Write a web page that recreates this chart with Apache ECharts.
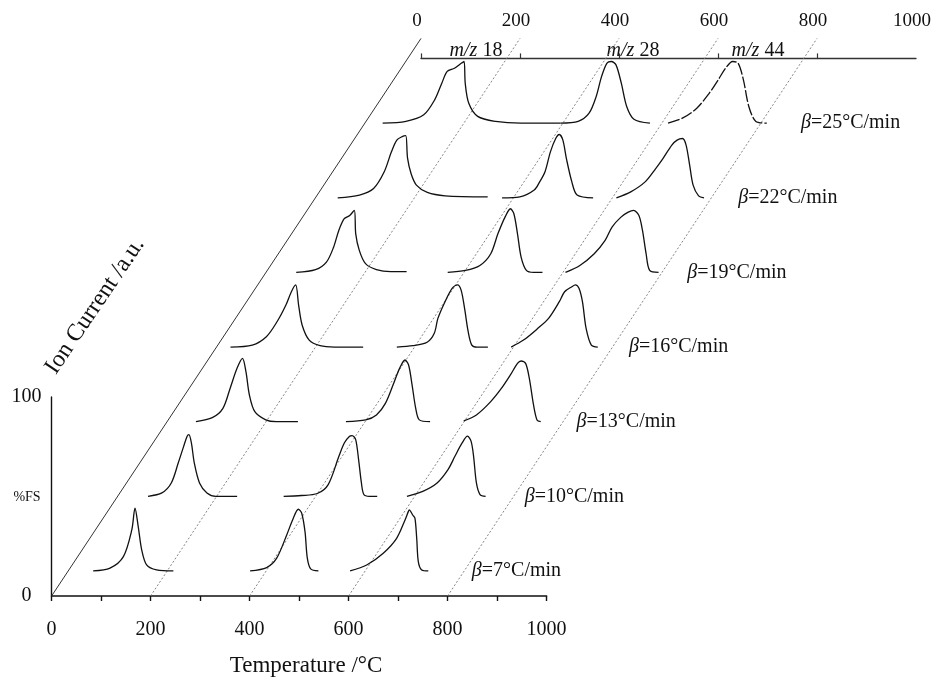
<!DOCTYPE html>
<html>
<head>
<meta charset="utf-8">
<script src="https://cdn.jsdelivr.net/npm/echarts@6/dist/echarts.min.js"></script>
<style>
html, body { margin: 0; padding: 0; background: #fff; }
#chart { width: 933px; height: 677px; }
</style>
</head>
<body>
<div id="chart"></div>
<script>
// heating rates, one slice each (front to back)
const BETAS = [7, 10, 13, 16, 19, 22, 25];

// traces per slice as [temperature on front axis, %FS above slice baseline]
const MZ18 = [
    [[84,0],[118,1.4],[145,7.2],[162,20.6],[168.5,31.5],[175,22.3],[182,10.6],[192,3],[212,0.5],[246,0]],
    [[95,0],[123,1.7],[142,6.7],[156,16.7],[167,25.1],[174,30.2],[177.6,31],[182.6,26.8],[188.5,16.7],[199,6.7],[214,1.7],[232,0],[275,0]],
    [[92,0],[125,2],[146.5,6.7],[161,16.7],[175,26.8],[186,31.8],[193,25.1],[200,13.4],[211,5],[233,0.9],[254,0],[298,0]],
    [[62,0],[106,1],[134.5,5.2],[156,12.7],[174,21.1],[185,27.8],[193.7,31.2],[199.6,21.1],[206.7,11.1],[221,3.5],[243,0.7],[272,0],[330,0]],
    [[95,0],[134,1.4],[156,5.2],[170.5,12.7],[181,21.1],[192,27],[203,28.6],[212.3,31.2],[215.2,19.4],[222.4,11.1],[235,4.4],[257,1.4],[286,0.4],[318,0.4]],
    [[79,0],[123,1.4],[151.5,4.7],[173,13.1],[187.5,23.1],[198.4,29],[209,30.7],[216.4,31.2],[220,20.1],[227.3,12.1],[238,6.4],[260,2.7],[296,1],[382,0.5]],
    [[70,0],[117,0.9],[153,4.2],[175,11.7],[189.5,20.1],[200.4,26],[215,27.6],[229.5,30.2],[234.5,31],[236.8,20.1],[243.8,10.1],[262,3.4],[298,0.9],[349,0],[429,0]]
];
const MZ28 = [
    [[401,0],[434.5,1.7],[454.7,6.4],[475,18.1],[488.3,26.5],[498.4,31],[505.3,29],[512,19.6],[516.6,6.4],[523.4,1],[539,0]],
    [[369,0],[405,0.4],[437,1.4],[459,5.9],[480.6,20.1],[491.5,26.8],[502.2,30.2],[507.3,30.5],[514.5,28.5],[520.4,18.4],[526.1,6.7],[531,0.9],[542,0],[558,0]],
    [[395,0],[435,0.9],[456.6,3.4],[474.7,9.2],[492.7,20.1],[503.4,26.8],[514.3,31],[521.6,28.5],[528.7,18.4],[536,6.7],[543.2,0.9],[565,0]],
    [[398,0],[430.5,0.7],[459.2,2.4],[473.7,6.9],[481,14.4],[495.4,22.8],[509.7,29.5],[520.6,31.2],[527.9,28.6],[534.9,19.4],[542.2,7.7],[549.5,1],[560,0],[582,0]],
    [[401,0],[437,1],[466,3.5],[488,9.4],[502.4,19.4],[516.8,27.8],[527.7,32],[534.7,29.5],[542,19.4],[549.3,7.7],[560,1],[574.5,0],[592.5,0]],
    [[411,0],[447,0.5],[476,3.9],[487,8],[497.8,13.1],[508.7,23.1],[519.4,29.8],[526.7,31.8],[533.9,29],[541,19.7],[552,8],[562.6,1.4],[595,0]],
    [[429,0],[465,0.9],[487,5],[501.4,13.4],[512.3,23.5],[523.2,30.2],[531.9,31],[541.4,29.3],[552.1,20.1],[563,8.4],[577.6,2],[610,0]]
];
const MZ44 = [
    [[603,0],[636.6,3],[670,8.9],[697,16.4],[714,25.6],[720.6,29.8],[722.6,30.7],[729.5,28.1],[734,26.5],[737.6,16.4],[740.8,4.7],[747.7,0.5],[761,0]],
    [[618,0],[650,2.5],[679,6.7],[701,13.4],[715,20.1],[729.5,26.8],[740.4,30.2],[747.7,27.6],[752.7,20.1],[758.4,6.7],[765.7,0.9],[777,0]],
    [[633,0.4],[658.6,3.4],[687.5,10.1],[709,16.7],[727.3,23.5],[741.6,29.3],[749,30.5],[758,29.3],[765.5,21.8],[774,8.4],[781,0.9],[788.5,0]],
    [[629,0],[654,3.5],[683,9.4],[704.6,14.4],[726.3,22.8],[737,27.8],[751.5,30.3],[758.8,31.2],[766,29.5],[773,22.8],[780.4,9.4],[791,1],[804,0]],
    [[639,0],[668,3.5],[697,9.4],[719,16.1],[733,22.8],[751,27.8],[765.7,30.3],[776.6,31.2],[787.3,28.6],[794.5,21.1],[801.8,9.4],[809,1],[827,0]],
    [[642,0],[671,3],[700,8],[721.4,14.7],[736,19.7],[754,26.5],[764.6,29],[775.6,29.8],[782.8,26.5],[790,16.4],[797,6.4],[808,1],[819,0]],
    [[646.5,0],[675.6,2.5],[704.6,7.5],[730,15.1],[748,21.8],[762.6,27.6],[777,31],[788,30.2],[798.8,21.8],[809.7,8.4],[824,0.9],[846,0]]
];

// where each beta label starts, in front-axis temperature
const BETA_LABEL_T = [849, 856, 861, 867, 885, 888, 915];

// axis ticks
const TEMP_LABELS = [0, 200, 400, 600, 800, 1000];
const TEMP_TICKS = [0, 100, 200, 300, 400, 500, 600, 700, 800, 900, 1000];
const TOP_TICKS = [0, 200, 400, 600, 800];
const GUIDE_T = [0, 200, 400, 600, 800];

// oblique projection: shift of each slice, baseline of first slice, shift of the rear axis
const SLICE_DT = 99.8, SLICE_DH = 37.5, BASE_H = 12.6;
const TOP_DT = 746.3, TOP_H = 280.2;

const FONT = '"Liberation Serif", "Times New Roman", serif';

function project(points, k) {
    return points.map(function (p) {
        return [p[0] + k * SLICE_DT, BASE_H + p[1] + k * SLICE_DH];
    });
}

var myChart = echarts.init(document.getElementById('chart'));

var series = [];

// guide lines from front axis to rear axis
GUIDE_T.forEach(function (t) {
    series.push({
        type: 'line',
        xAxisIndex: 2, yAxisIndex: 2,
        data: [[t, 0], [t + TOP_DT, TOP_H]],
        symbol: 'none',
        silent: true,
        clip: false,
        lineStyle: {
            color: t === 0 ? '#333' : '#777',
            width: t === 0 ? 1 : 0.9,
            type: t === 0 ? 'solid' : [2, 2]
        }
    });
});

[MZ18, MZ28, MZ44].forEach(function (trace, m) {
    trace.forEach(function (pts, k) {
        // the rear m/z 44 trace is broken up in the scan
        var broken = (m === 2 && k === 6);
        series.push({
            type: 'line',
            xAxisIndex: 2, yAxisIndex: 2,
            data: project(pts, k),
            symbol: 'none',
            smooth: 0.3,
            silent: true,
            clip: false,
            lineStyle: { color: '#111', width: 1.3, type: broken ? [12, 2] : 'solid' }
        });
    });
});

series.push({
    type: 'scatter',
    xAxisIndex: 2, yAxisIndex: 2,
    symbolSize: 0,
    itemStyle: { color: '#000', opacity: 1 },
    silent: true,
    data: BETAS.map(function (b, k) {
        return [BETA_LABEL_T[k] + k * SLICE_DT, BASE_H + k * SLICE_DH];
    }),
    label: {
        show: true,
        position: 'right',
        distance: 0,
        color: '#111',
        opacity: 1,
        fontFamily: FONT,
        fontSize: 20,
        formatter: function (p) {
            return '{i|β}=' + BETAS[p.dataIndex] + '°C/min';
        },
        rich: {
            i: { fontStyle: 'italic', fontFamily: FONT, fontSize: 20, color: '#111' }
        }
    }
});

function plainNum(v) { return String(v); }

var option = {
    backgroundColor: '#fff',
    animation: false,
    textStyle: { fontFamily: FONT, color: '#111' },
    grid: [
        { left: 51.6, right: 386.4, top: 397, bottom: 81, outerBoundsMode: 'none', containLabel: false },
        { left: 421, width: 495, top: 38.4, height: 20, outerBoundsMode: 'none', containLabel: false },
        { left: 51.6, right: 0, top: 0, bottom: 81, outerBoundsMode: 'none', containLabel: false }
    ],
    xAxis: [{
        gridIndex: 0,
        type: 'value',
        min: 0, max: 1000,
        name: 'Temperature /°C',
        nameLocation: 'middle',
        nameGap: 58,
        nameTextStyle: { fontSize: 23, color: '#111', fontFamily: FONT, padding: [0, 0, 0, 14] },
        axisLine: { lineStyle: { color: '#111', width: 1.6 } },
        axisTick: { show: true, length: 5, customValues: TEMP_TICKS, lineStyle: { color: '#111', width: 1.4 } },
        axisLabel: { customValues: TEMP_LABELS, formatter: plainNum, fontSize: 20, color: '#111', margin: 24, fontFamily: FONT },
        splitLine: { show: false }
    }, {
        gridIndex: 1,
        type: 'value',
        position: 'top',
        min: 0, max: 1000,
        axisLine: { lineStyle: { color: '#333', width: 1.3 } },
        axisTick: { show: true, length: 5, customValues: TOP_TICKS, lineStyle: { color: '#333', width: 1.2 } },
        axisLabel: { customValues: TEMP_LABELS, formatter: plainNum, fontSize: 19, color: '#111', margin: 8, padding: [0, 8, 0, 0], fontFamily: FONT },
        splitLine: { show: false }
    }, {
        gridIndex: 2,
        type: 'value',
        min: 0, max: (933 - 51.6) / 0.495,
        show: false
    }],
    yAxis: [{
        gridIndex: 0,
        type: 'value',
        min: 0, max: 100, interval: 100,
        axisLine: { show: true, lineStyle: { color: '#111', width: 1.4 } },
        axisTick: { show: false },
        axisLabel: { fontSize: 20, color: '#111', margin: 25, align: 'center', fontFamily: FONT },
        splitLine: { show: false }
    }, {
        gridIndex: 1,
        type: 'value',
        show: false
    }, {
        gridIndex: 2,
        type: 'value',
        min: 0, max: 596 / 1.99,
        show: false
    }],
    graphic: [{
        type: 'text',
        x: 95, y: 306,
        rotation: 56 * Math.PI / 180,
        style: { text: 'Ion Current /a.u.', fill: '#111', font: '24px ' + FONT, align: 'center', verticalAlign: 'middle' }
    }, {
        type: 'text',
        x: 27, y: 497,
        style: { text: '%FS', fill: '#111', font: '14px ' + FONT, align: 'center', verticalAlign: 'middle' }
    }, {
        type: 'text',
        x: 476, y: 51,
        style: {
            text: '{i|m/z} 18', fill: '#111', font: '20px ' + FONT, align: 'center', verticalAlign: 'middle',
            rich: { i: { fontStyle: 'italic', fontSize: 20, fontFamily: FONT } }
        }
    }, {
        type: 'text',
        x: 633, y: 51,
        style: {
            text: '{i|m/z} 28', fill: '#111', font: '20px ' + FONT, align: 'center', verticalAlign: 'middle',
            rich: { i: { fontStyle: 'italic', fontSize: 20, fontFamily: FONT } }
        }
    }, {
        type: 'text',
        x: 758, y: 51,
        style: {
            text: '{i|m/z} 44', fill: '#111', font: '20px ' + FONT, align: 'center', verticalAlign: 'middle',
            rich: { i: { fontStyle: 'italic', fontSize: 20, fontFamily: FONT } }
        }
    }],
    series: series
};

myChart.setOption(option);
window.addEventListener('resize', function () { myChart.resize(); });
</script>
</body>
</html>
